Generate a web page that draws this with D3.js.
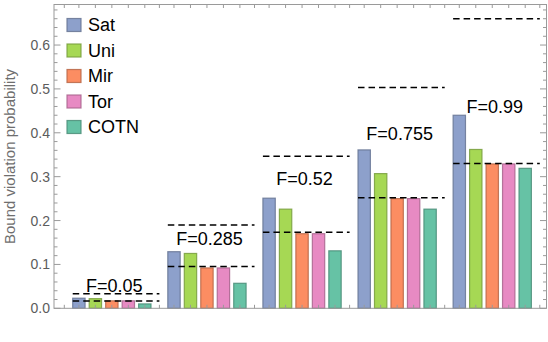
<!DOCTYPE html>
<html>
<head>
<meta charset="utf-8">
<script src="https://cdn.jsdelivr.net/npm/d3@7"></script>
<style>
  html, body { margin: 0; padding: 0; background: #fff; }
  svg { display: block; }
  text { font-family: "Liberation Sans", Arial, sans-serif; }
</style>
</head>
<body>
<svg id="chart" width="548" height="342"></svg>
<script>
// ---- data ----
const groups = ["F=0.05", "F=0.285", "F=0.52", "F=0.755", "F=0.99"];
const series = ["Sat", "Uni", "Mir", "Tor", "COTN"];
const colors = ["#8da0cb", "#a6d854", "#fc8d62", "#e78ac3", "#66c2a5"];
const satValues  = [0.023, 0.129, 0.251, 0.361, 0.440];
const uniValues  = [0.022, 0.125, 0.226, 0.307, 0.362];
const mirValues  = [0.017, 0.092, 0.170, 0.250, 0.329];
const torValues  = [0.017, 0.092, 0.170, 0.250, 0.329];
const cotnValues = [0.010, 0.057, 0.131, 0.226, 0.319];
const upperBound = [0.0333, 0.190, 0.3467, 0.5033, 0.660];
const lowerBound = [0.0167, 0.095, 0.1733, 0.2517, 0.330];
const labelLevel = [0.038, 0.144, 0.281, 0.384, 0.444];
const yTicks = [0, 0.1, 0.2, 0.3, 0.4, 0.5, 0.6];
const yLabel = "Bound violation probability";
const values = [satValues, uniValues, mirValues, torValues, cotnValues];

// ---- layout ----
const svg = d3.select("#chart");
const frame = { left: 54, right: 546.5, top: 4.5, bottom: 308.3 };

const y = d3.scaleLinear().domain([0, 0.6924]).range([frame.bottom, frame.top]);
const xG = d3.scaleBand().domain(groups).range([64.3, 539.8])
  .paddingInner(0.177).paddingOuter(0.0885);
const xS = d3.scaleBand().domain(series).range([0, xG.bandwidth()])
  .paddingInner(0.25).paddingOuter(0);

const frameColor = "#9a9a9a";
const tickColor = "#9a9a9a";
const gapHalf = xG.step() * xG.paddingInner() / 2;

// ---- bars ----
const barData = [];
groups.forEach((g, gi) => {
  series.forEach((s, si) => {
    barData.push({ g, s, v: values[si][gi], c: colors[si] });
  });
});
svg.append("g").selectAll("rect").data(barData).join("rect")
  .attr("x", d => xG(d.g) + xS(d.s))
  .attr("width", xS.bandwidth())
  .attr("y", d => y(d.v))
  .attr("height", d => y(0) - y(d.v))
  .attr("fill", d => d.c)
  .attr("stroke", d => d3.color(d.c).darker(0.9))
  .attr("stroke-opacity", 0.85)
  .attr("stroke-width", 1.2);

// ---- bottom/top ticks (bar centres + group dividers) ----
const xTickPos = [];
groups.forEach(g => {
  xTickPos.push({ x: xG(g) - gapHalf, major: true });
  series.forEach(s => xTickPos.push({ x: xG(g) + xS(s) + xS.bandwidth() / 2, major: false }));
});
xTickPos.push({ x: xG(groups[groups.length - 1]) + xG.bandwidth() + gapHalf, major: true });

const tickG = svg.append("g").attr("stroke", tickColor).attr("stroke-width", 1);
tickG.selectAll("line.bt").data(xTickPos).join("line").attr("class", "bt")
  .attr("x1", d => d.x).attr("x2", d => d.x)
  .attr("y1", frame.bottom).attr("y2", frame.bottom - 3.5);
tickG.selectAll("line.tt").data(xTickPos).join("line").attr("class", "tt")
  .attr("x1", d => d.x).attr("x2", d => d.x)
  .attr("y1", frame.top).attr("y2", frame.top + 3.5);

// ---- y axis (left with labels, right mirrored) ----
const minorTicks = d3.range(0, 0.69, 0.02).filter(t => !yTicks.some(m => Math.abs(m - t) < 1e-6));
const yAxisL = d3.axisLeft(y).tickValues(yTicks).tickFormat(d3.format(".1f")).tickSize(0).tickPadding(4);
const gl = svg.append("g").attr("transform", `translate(${frame.left},0)`).call(yAxisL);
gl.select(".domain").remove();
gl.selectAll("text").attr("font-size", 14).attr("fill", "#5c5c5c")
  .attr("font-family", "'Liberation Sans', Arial, sans-serif");

tickG.selectAll("line.lM").data(yTicks).join("line").attr("class", "lM")
  .attr("x1", frame.left).attr("x2", frame.left + 6.5)
  .attr("y1", d => y(d)).attr("y2", d => y(d));
tickG.selectAll("line.lm").data(minorTicks).join("line").attr("class", "lm")
  .attr("x1", frame.left).attr("x2", frame.left + 3.5)
  .attr("y1", d => y(d)).attr("y2", d => y(d));
tickG.selectAll("line.rM").data(yTicks).join("line").attr("class", "rM")
  .attr("x1", frame.right).attr("x2", frame.right - 6.5)
  .attr("y1", d => y(d)).attr("y2", d => y(d));
tickG.selectAll("line.rm").data(minorTicks).join("line").attr("class", "rm")
  .attr("x1", frame.right).attr("x2", frame.right - 3.5)
  .attr("y1", d => y(d)).attr("y2", d => y(d));

// ---- frame ----
svg.append("rect")
  .attr("x", frame.left).attr("y", frame.top)
  .attr("width", frame.right - frame.left).attr("height", frame.bottom - frame.top)
  .attr("fill", "none").attr("stroke", frameColor).attr("stroke-width", 1);

// ---- dashed bound lines ----
const dashG = svg.append("g").attr("stroke", "#000").attr("stroke-width", 1.5)
  .attr("stroke-dasharray", "6.5,4");
groups.forEach((g, gi) => {
  [upperBound[gi], lowerBound[gi]].forEach(v => {
    dashG.append("line")
      .attr("x1", xG(g)).attr("x2", xG(g) + xG.bandwidth() + gapHalf)
      .attr("y1", y(v)).attr("y2", y(v));
  });
});

// ---- group labels ----
svg.append("g").selectAll("text").data(groups).join("text")
  .attr("x", g => xG(g) + xG.bandwidth() / 2 + 2.5)
  .attr("y", (g, i) => y(labelLevel[i]))
  .attr("text-anchor", "middle")
  .attr("font-size", 18)
  .attr("fill", "#000")
  .text(g => g);

// ---- legend ----
const leg = svg.append("g").attr("transform", "translate(67,18.5)");
const rows = leg.selectAll("g").data(series).join("g")
  .attr("transform", (d, i) => `translate(0,${i * 25.5})`);
rows.append("rect")
  .attr("width", 14).attr("height", 13)
  .attr("fill", (d, i) => colors[i])
  .attr("stroke", (d, i) => d3.color(colors[i]).darker(0.9))
  .attr("stroke-opacity", 0.85)
  .attr("stroke-width", 1.2);
rows.append("text")
  .attr("x", 21).attr("y", 12.5)
  .attr("font-size", 18).attr("fill", "#000")
  .text(d => d);

// ---- y axis title ----
svg.append("text")
  .attr("transform", `translate(14.5,156.5) rotate(-90)`)
  .attr("text-anchor", "middle")
  .attr("font-size", 15)
  .attr("fill", "#6e6e6e")
  .text(yLabel);
</script>
</body>
</html>
